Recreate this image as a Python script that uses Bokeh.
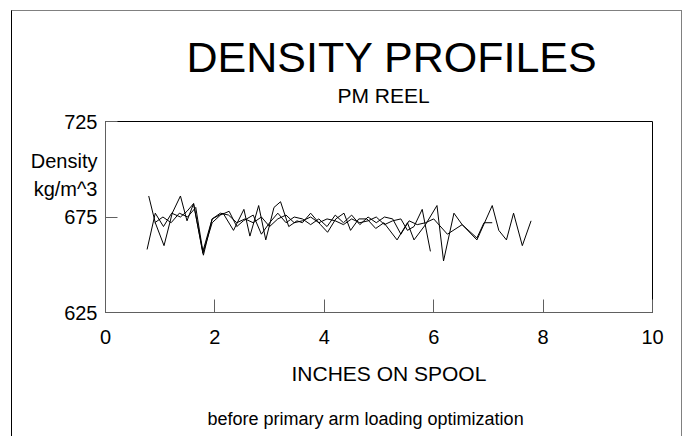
from bokeh.plotting import figure
from bokeh.models import FixedTicker, Range1d, Title, LinearAxis
from bokeh.embed import file_html
from bokeh.resources import INLINE

# ---------------- data ----------------
a_x = [0.79, 0.91, 1.07, 1.22, 1.37, 1.49, 1.61, 1.79, 1.95, 2.15, 2.34, 2.53, 2.64, 2.80, 2.93,
       3.08, 3.20, 3.35, 3.50, 3.60, 3.75, 3.93, 4.06, 4.21, 4.36, 4.48, 4.63, 4.78, 4.94, 5.09,
       5.33, 5.52, 5.64, 5.85, 6.06, 6.18, 6.37, 6.52, 6.79, 7.07, 7.19, 7.33, 7.46, 7.62, 7.78]
a_y = [686, 672, 660, 677, 686, 673, 682, 655, 674, 677, 668, 679, 665, 681, 663,
       680, 683, 670, 673, 672, 677, 671, 667, 674, 677, 668, 674, 674, 669, 672,
       663, 672, 663, 671, 681, 652, 677, 671, 663, 681, 668, 663, 677, 660, 673]

b_x = [0.76, 0.91, 1.06, 1.21, 1.37, 1.49, 1.61, 1.78, 1.95, 2.10, 2.26, 2.40, 2.52, 2.70, 2.85,
       3.00, 3.15, 3.30, 3.45, 3.60, 3.75, 3.90, 4.05, 4.20, 4.35, 4.50, 4.65, 4.80, 4.95, 5.10,
       5.25, 5.40, 5.55, 5.70, 5.85, 6.00, 6.25, 6.52, 6.79, 6.92, 7.07]
b_y = [658, 677, 670, 677, 675, 678, 682, 656, 672, 676, 678, 670, 673, 676, 666,
       672, 677, 672, 675, 674, 671, 674, 670, 676, 672, 676, 671, 675, 672, 675,
       674, 666, 673, 671, 672, 674, 666, 671, 664, 672, 672]

c_x = [0.90, 1.05, 1.20, 1.35, 1.50, 1.65, 1.78, 1.95, 2.10, 2.25, 2.40, 2.55, 2.70, 2.85, 3.00,
       3.15, 3.30, 3.45, 3.60, 3.75, 3.90, 4.05, 4.20, 4.35, 4.50, 4.65, 4.80, 4.95, 5.10, 5.25,
       5.40, 5.52, 5.64, 5.79, 5.94]
c_y = [672, 675, 672, 677, 675, 680, 657, 674, 677, 676, 672, 674, 672, 675, 670,
       674, 676, 672, 673, 675, 672, 674, 673, 671, 674, 672, 673, 675, 671, 673,
       674, 668, 670, 679, 657]

x_ticks = [0, 2, 4, 6, 8, 10]
y_ticks = [625, 675, 725]

title_text = "DENSITY PROFILES"
subtitle_text = "PM REEL"
ylab_lines = ["Density", "kg/m^3"]
ylab_pos = [704.5, 689.5]          # heights (in y units) at which the caption lines sit
xlab_text = "INCHES ON SPOOL"
note_text = "before primary arm loading optimization"

# ---------------- layout ----------------
OX, OY = 12, 11                     # canvas origin inside the page (outer frame)
CW, CH = 671, 426
FL, FR, FT, FB = 105, 652, 121, 312  # frame edges in page pixels
FONT = "Liberation Sans"

p = figure(width=CW, height=CH, x_range=Range1d(0, 10), y_range=Range1d(625, 725),
           output_backend="svg", toolbar_location=None,
           min_border_left=FL - OX, min_border_right=OX + CW - FR,
           min_border_top=FT - OY, min_border_bottom=OY + CH - FB)
p.margin = (OY - 1, 0, 0, OX - 1)
p.styles = {"border-left": "1px solid black",
            "border-top": "1px solid #808080",
            "border-right": "1px solid #808080"}
p.xgrid.visible = False
p.ygrid.visible = False
p.outline_line_color = "black"
p.outline_line_width = 1
p.background_fill_color = "white"
p.border_fill_color = "white"

# x axis
xa = p.xaxis[0]
xa.ticker = FixedTicker(ticks=x_ticks)
xa.axis_line_color = "#606060"
xa.major_tick_line_color = "#606060"
xa.minor_tick_line_color = None
xa.major_tick_in = 13
xa.major_tick_out = 0
xa.major_label_text_font = FONT
xa.major_label_text_font_size = "20px"
xa.major_label_text_color = "black"
xa.major_label_standoff = 17

# y axis (tick marks only, next to the frame)
ya = p.yaxis[0]
ya.ticker = FixedTicker(ticks=y_ticks)
ya.axis_line_color = "#606060"
ya.major_tick_line_color = "#606060"
ya.minor_tick_line_color = None
ya.major_tick_in = 12
ya.major_tick_out = 0
ya.major_label_overrides = {t: "" for t in y_ticks}
ya.major_label_text_font_size = "1px"
ya.major_label_standoff = 0

# y axis labels: tick values plus the two-line caption
lab_ticks = y_ticks + ylab_pos
ya2 = LinearAxis(ticker=FixedTicker(ticks=lab_ticks),
                 major_label_overrides={ylab_pos[0]: ylab_lines[0], ylab_pos[1]: ylab_lines[1]},
                 axis_line_color=None, major_tick_line_color=None, minor_tick_line_color=None,
                 major_tick_in=0, major_tick_out=0, major_label_standoff=8,
                 major_label_text_font=FONT, major_label_text_font_size="20px",
                 major_label_text_color="black")
p.add_layout(ya2, "left")

for xs, ys in ((a_x, a_y), (b_x, b_y), (c_x, c_y)):
    p.line(xs, ys, line_color="black", line_width=1)

# titles (left aligned, offset from the frame's left edge)
HAS_PAD = "padding" in Title.properties()

def title(txt, size, standoff, offset, where, pad=0):
    kw = dict(text=txt, align="left", text_font=FONT, text_font_size=size,
              text_font_style="normal", text_color="black",
              standoff=standoff, offset=offset)
    if HAS_PAD and pad:
        kw["padding"] = pad
    p.add_layout(Title(**kw), where)

title(subtitle_text, "21px", 29.5, 232, "above")
title(title_text, "43px", -36 if HAS_PAD else -28, 77, "above", pad=4)
title(xlab_text, "21px", 27, 186, "below")
title(note_text, "18px", 16, 102, "below")

open("out.html", "w").write(file_html(p, INLINE))
